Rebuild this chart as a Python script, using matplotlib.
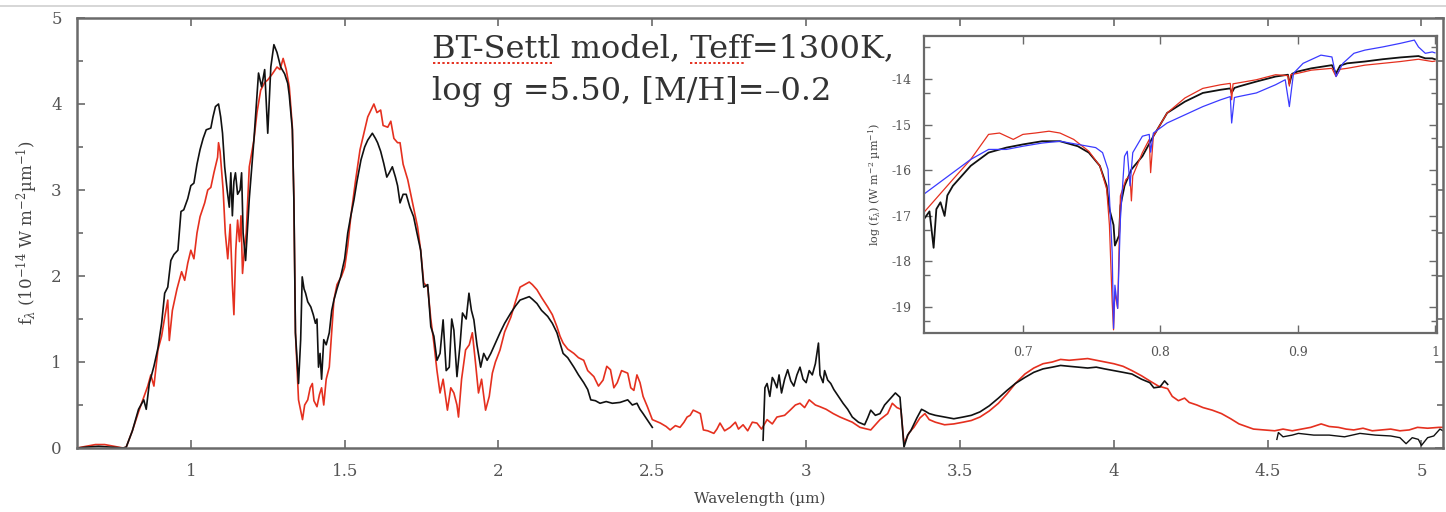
import matplotlib
matplotlib.use("Agg")
import numpy as np
import matplotlib.pyplot as plt
from matplotlib.ticker import FixedLocator, FuncFormatter
from matplotlib.lines import Line2D

plt.rcParams['font.family'] = ['DejaVu Serif']
plt.rcParams['mathtext.fontset'] = 'dejavuserif'

# main panel, model (red)
red_wl = [0.63, 0.66, 0.69, 0.72, 0.75, 0.78, 0.79, 0.81, 0.83, 0.847, 0.86, 0.87, 0.88, 0.893, 0.905,
          0.915, 0.925, 0.93, 0.94, 0.955, 0.97, 0.98, 0.99, 1.0, 1.01, 1.02, 1.03, 1.045, 1.055, 1.065,
          1.075, 1.087, 1.09, 1.095, 1.105, 1.112, 1.12, 1.128, 1.135, 1.14, 1.146, 1.152, 1.158, 1.163,
          1.168, 1.174, 1.18, 1.19, 1.205, 1.215, 1.227, 1.24, 1.25, 1.265, 1.28, 1.29, 1.30, 1.31, 1.32,
          1.33, 1.335, 1.34, 1.35, 1.363, 1.37, 1.38, 1.388, 1.395, 1.40, 1.41, 1.418, 1.425, 1.432, 1.44,
          1.45, 1.457, 1.465, 1.475, 1.49, 1.5, 1.51, 1.52, 1.535, 1.55, 1.565, 1.575, 1.595, 1.605, 1.617,
          1.625, 1.64, 1.65, 1.66, 1.672, 1.68, 1.69, 1.705, 1.715, 1.724, 1.737, 1.747, 1.757, 1.77, 1.78,
          1.79, 1.80, 1.81, 1.82, 1.834, 1.845, 1.855, 1.865, 1.87, 1.88, 1.893, 1.905, 1.915, 1.925, 1.935,
          1.945, 1.958, 1.97, 1.98, 1.99, 2.005, 2.02, 2.04, 2.055, 2.07, 2.085, 2.10, 2.11, 2.125, 2.14,
          2.16, 2.175, 2.19, 2.20, 2.21, 2.225, 2.245, 2.26, 2.277, 2.29, 2.31, 2.325, 2.34, 2.352, 2.364,
          2.375, 2.386, 2.40, 2.42, 2.43, 2.44, 2.45, 2.46, 2.47, 2.484, 2.5, 2.526, 2.545, 2.558, 2.575,
          2.59, 2.603, 2.613, 2.623, 2.633, 2.645, 2.656, 2.666, 2.68, 2.7, 2.71, 2.72, 2.735, 2.753, 2.77,
          2.78, 2.795, 2.81, 2.825, 2.84, 2.855, 2.873, 2.89, 2.905, 2.93, 2.948, 2.965, 2.98, 2.995, 3.01,
          3.03, 3.045, 3.065, 3.088, 3.11, 3.13, 3.15, 3.175, 3.21, 3.24, 3.265, 3.28, 3.295, 3.308, 3.318,
          3.335, 3.35, 3.37, 3.386, 3.40, 3.42, 3.45, 3.48, 3.51, 3.537, 3.565, 3.595, 3.625, 3.653, 3.68,
          3.711, 3.74, 3.77, 3.8, 3.827, 3.855, 3.885, 3.915, 3.943, 3.97, 4.0, 4.03, 4.059, 4.09, 4.117,
          4.145, 4.175, 4.19, 4.21, 4.23, 4.245, 4.27, 4.29, 4.32, 4.35, 4.38, 4.407, 4.43, 4.454, 4.49,
          4.523, 4.55, 4.58, 4.61, 4.64, 4.674, 4.7, 4.73, 4.755, 4.78, 4.81, 4.84, 4.871, 4.9, 4.93, 4.96,
          4.987, 5.02, 5.057, 5.07]
red_flux = [0.0, 0.02, 0.04, 0.04, 0.02, 0.0, 0.01, 0.2, 0.42, 0.59, 0.72, 0.85, 0.72, 1.14, 1.3,
            1.52, 1.72, 1.25, 1.6, 1.85, 2.05, 1.95, 2.15, 2.3, 2.2, 2.5, 2.69, 2.85, 3.0, 3.03,
            3.2, 3.38, 3.55, 3.45, 3.0, 2.5, 2.2, 2.6, 1.9, 1.55, 2.3, 2.65, 2.4, 2.7,
            2.03, 2.3, 2.5, 3.27, 3.58, 3.9, 4.16, 4.25, 4.28, 4.35, 4.43, 4.4, 4.53, 4.4, 4.2,
            3.73, 2.88, 1.34, 0.56, 0.33, 0.5, 0.56, 0.7, 0.75, 0.55, 0.48, 0.62, 0.7, 0.5, 0.8,
            0.94, 1.3, 1.72, 1.9, 2.0, 2.1, 2.35, 2.69, 3.1, 3.47, 3.7, 3.85, 4.0, 3.9, 3.93,
            3.75, 3.73, 3.8, 3.6, 3.55, 3.55, 3.3, 3.12, 2.95, 2.8, 2.57, 2.3, 1.92, 1.87, 1.5,
            1.22, 0.9, 0.64, 0.8, 0.44, 0.7, 0.64, 0.5, 0.36, 0.8, 1.14, 1.2, 1.34, 1.0, 0.64,
            0.8, 0.44, 0.6, 0.87, 1.0, 1.14, 1.35, 1.52, 1.7, 1.87, 1.9, 1.93, 1.9, 1.84, 1.75,
            1.64, 1.55, 1.41, 1.3, 1.22, 1.15, 1.1, 1.05, 1.02, 0.9, 0.83, 0.72, 0.79, 0.95, 0.91,
            0.7, 0.76, 0.9, 0.87, 0.7, 0.67, 0.85, 0.76, 0.6, 0.48, 0.33, 0.29, 0.25, 0.21, 0.26,
            0.24, 0.3, 0.36, 0.38, 0.44, 0.42, 0.4, 0.21, 0.2, 0.17, 0.22, 0.29, 0.2, 0.24, 0.3,
            0.22, 0.27, 0.2, 0.3, 0.29, 0.22, 0.33, 0.28, 0.36, 0.38, 0.44, 0.5, 0.52, 0.47, 0.56,
            0.5, 0.48, 0.45, 0.4, 0.36, 0.33, 0.3, 0.24, 0.21, 0.33, 0.4, 0.52, 0.47, 0.45, 0.05,
            0.18, 0.24, 0.35, 0.40, 0.33, 0.30, 0.27, 0.28, 0.3, 0.32, 0.36, 0.43, 0.52, 0.63, 0.75,
            0.86, 0.93, 0.98, 1.0, 1.03, 1.02, 1.03, 1.04, 1.02, 1.0, 0.98, 0.95, 0.9, 0.84, 0.78,
            0.72, 0.69, 0.6, 0.55, 0.58, 0.53, 0.5, 0.47, 0.44, 0.40, 0.34, 0.28, 0.25, 0.22, 0.21,
            0.20, 0.22, 0.2, 0.22, 0.24, 0.28, 0.25, 0.24, 0.22, 0.21, 0.23, 0.2, 0.21, 0.22, 0.2, 0.21,
            0.24, 0.23, 0.24, 0.24]

# main panel, observed (black), three separate pieces
blk1_wl = [0.63, 0.66, 0.70, 0.74, 0.78, 0.79, 0.81, 0.83, 0.847, 0.855, 0.865, 0.88, 0.893, 0.905,
           0.915, 0.925, 0.935, 0.945, 0.958, 0.968, 0.977, 0.99, 1.0, 1.01, 1.02, 1.03, 1.04, 1.05,
           1.065, 1.072, 1.08, 1.09, 1.097, 1.103, 1.11, 1.118, 1.125, 1.13, 1.135, 1.14, 1.145, 1.152,
           1.16, 1.165, 1.17, 1.178, 1.185, 1.19, 1.205, 1.22, 1.23, 1.24, 1.25, 1.26, 1.27, 1.28, 1.292,
           1.305, 1.315, 1.32, 1.33, 1.335, 1.34, 1.35, 1.357, 1.362, 1.368, 1.373, 1.38, 1.39, 1.398,
           1.405, 1.41, 1.415, 1.42, 1.425, 1.432, 1.44, 1.45, 1.458, 1.465, 1.475, 1.487, 1.5, 1.51,
           1.52, 1.53, 1.54, 1.553, 1.565, 1.575, 1.59, 1.6, 1.607, 1.617, 1.627, 1.637, 1.645, 1.655,
           1.665, 1.672, 1.68, 1.69, 1.70, 1.712, 1.724, 1.735, 1.747, 1.757, 1.77, 1.78, 1.79, 1.80,
           1.81, 1.82, 1.83, 1.84, 1.848, 1.855, 1.865, 1.875, 1.883, 1.895, 1.904, 1.912, 1.92, 1.93,
           1.942, 1.952, 1.963, 1.975, 1.985, 2.005, 2.02, 2.04, 2.055, 2.07, 2.085, 2.10, 2.11, 2.125,
           2.14, 2.16, 2.175, 2.19, 2.2, 2.21, 2.225, 2.245, 2.26, 2.277, 2.29, 2.3, 2.315, 2.33, 2.35,
           2.37, 2.395, 2.42, 2.435, 2.45, 2.46, 2.47, 2.485, 2.5]
blk1_flux = [0.0, 0.01, 0.02, 0.01, 0.0, 0.01, 0.2, 0.45, 0.56, 0.45, 0.75, 0.95, 1.16, 1.45,
             1.8, 1.87, 2.18, 2.25, 2.3, 2.75, 2.77, 2.9, 3.05, 3.08, 3.3, 3.47, 3.6, 3.7,
             3.72, 3.85, 3.97, 4.0, 3.85, 3.66, 3.27, 3.0, 2.8, 3.2, 2.7, 3.1, 3.2, 2.95,
             3.0, 3.2, 2.5, 2.18, 2.6, 2.9, 3.58, 4.36, 4.2, 4.4, 3.66, 4.43, 4.69, 4.6, 4.43,
             4.35, 4.24, 4.1, 3.7, 2.88, 1.34, 0.75, 1.26, 1.99, 1.85, 1.8, 1.7, 1.64, 1.55,
             1.45, 1.5, 0.94, 1.1, 0.8, 1.26, 1.2, 1.34, 1.6, 1.72, 1.85, 1.99, 2.2, 2.5,
             2.7, 2.88, 3.1, 3.35, 3.5, 3.58, 3.66, 3.6, 3.55, 3.45, 3.31, 3.15, 3.2, 3.27,
             3.15, 3.05, 2.85, 2.95, 2.95, 2.8, 2.69, 2.5, 2.3, 1.87, 1.9, 1.41, 1.3, 1.02,
             1.1, 1.49, 0.9, 0.94, 1.5, 1.37, 0.83, 1.2, 1.57, 1.5, 1.8, 1.6, 1.49, 1.2,
             0.94, 1.1, 1.02, 1.1, 1.18, 1.34, 1.45, 1.57, 1.65, 1.72, 1.74, 1.76, 1.73, 1.68,
             1.6, 1.53, 1.45, 1.34, 1.22, 1.1, 1.05, 0.94, 0.85, 0.76, 0.68, 0.56, 0.55, 0.52, 0.54,
             0.52, 0.53, 0.56, 0.5, 0.52, 0.45, 0.4, 0.32, 0.24]
blk2_wl = [2.86, 2.866, 2.873, 2.882, 2.89, 2.895, 2.905, 2.912, 2.92, 2.93, 2.94, 2.95, 2.96, 2.97,
           2.98, 2.99, 3.0, 3.01, 3.02, 3.03, 3.04, 3.045, 3.055, 3.06, 3.07, 3.08, 3.09, 3.105, 3.12,
           3.135, 3.15, 3.17, 3.19, 3.2, 3.21, 3.225, 3.24, 3.255, 3.27, 3.28, 3.29, 3.305, 3.318, 3.33,
           3.34, 3.36, 3.375, 3.386, 3.40, 3.42, 3.45, 3.48, 3.51, 3.537, 3.565, 3.595, 3.625, 3.653,
           3.68, 3.711, 3.74, 3.77, 3.8, 3.827, 3.855, 3.885, 3.915, 3.943, 3.97, 4.0, 4.03, 4.059, 4.09,
           4.117, 4.13, 4.15, 4.165, 4.175]
blk2_flux = [0.09, 0.7, 0.75, 0.6, 0.82, 0.79, 0.7, 0.85, 0.64, 0.8, 0.91, 0.78, 0.72, 0.85,
             0.94, 0.8, 0.76, 0.9, 0.85, 0.98, 1.22, 0.85, 0.76, 0.9, 0.79, 0.75, 0.68, 0.6, 0.52,
             0.45, 0.36, 0.3, 0.27, 0.35, 0.44, 0.38, 0.40, 0.5, 0.56, 0.6, 0.64, 0.59, 0.01, 0.15,
             0.2, 0.35, 0.45, 0.43, 0.40, 0.38, 0.36, 0.34, 0.36, 0.38, 0.42, 0.49, 0.58, 0.67,
             0.75, 0.82, 0.88, 0.92, 0.94, 0.96, 0.95, 0.94, 0.93, 0.94, 0.92, 0.9, 0.88, 0.86, 0.8,
             0.76, 0.7, 0.71, 0.78, 0.74]
blk3_wl = [4.53, 4.535, 4.55, 4.58, 4.6, 4.65, 4.7, 4.75, 4.8, 4.85, 4.9, 4.93, 4.95, 4.97, 4.99,
           5.0, 5.02, 5.04, 5.06, 5.07]
blk3_flux = [0.1, 0.18, 0.13, 0.15, 0.17, 0.15, 0.15, 0.13, 0.17, 0.15, 0.14, 0.12, 0.05, 0.12, 0.1,
             0.03, 0.12, 0.14, 0.22, 0.2]

# inset (log flux)
in_blk_wl = [0.628, 0.632, 0.635, 0.637, 0.64, 0.643, 0.645, 0.649, 0.662, 0.675, 0.688, 0.7, 0.714,
             0.727, 0.74, 0.748, 0.756, 0.761, 0.763, 0.766, 0.767, 0.77, 0.771, 0.774, 0.779, 0.787,
             0.795, 0.805, 0.818, 0.831, 0.844, 0.851, 0.852, 0.854, 0.857, 0.87, 0.884, 0.893, 0.894,
             0.896, 0.9, 0.91, 0.925, 0.928, 0.931, 0.936, 0.949, 0.962, 0.975, 0.988, 0.993, 0.998, 1.0]
in_blk_log = [-17.07, -16.9, -17.7, -16.85, -16.7, -17.0, -16.55, -16.34, -15.9, -15.61, -15.5, -15.43, -15.36,
              -15.36, -15.47, -15.61, -15.9, -16.34, -16.85, -17.2, -17.65, -17.43, -16.78, -16.34, -15.98, -15.69,
              -15.25, -14.74, -14.49, -14.3, -14.23, -14.2, -14.3, -14.19, -14.16, -14.05, -13.94, -13.9, -14.1,
              -13.88, -13.83, -13.76, -13.69, -13.87, -13.7, -13.65, -13.61, -13.56, -13.52, -13.49, -13.54, -13.54, -13.56]
in_red_wl = [0.628, 0.649, 0.662, 0.675, 0.683, 0.693, 0.7, 0.709, 0.719, 0.727, 0.737, 0.748, 0.756,
             0.761, 0.763, 0.765, 0.766, 0.767, 0.769, 0.77, 0.771, 0.775, 0.778, 0.779, 0.78, 0.787,
             0.792, 0.793, 0.795, 0.805, 0.818, 0.831, 0.844, 0.851, 0.852, 0.853, 0.87, 0.884, 0.893,
             0.894, 0.895, 0.9, 0.91, 0.925, 0.928, 0.931, 0.936, 0.949, 0.962, 0.975, 0.988, 0.998, 1.0]
in_red_log = [-16.92, -16.2, -15.76, -15.21, -15.18, -15.32, -15.21, -15.18, -15.14, -15.18, -15.32, -15.58, -15.9,
              -16.41, -17.2, -18.89, -19.5, -18.67, -19.03, -17.72, -16.56, -16.2, -16.12, -16.67, -16.12, -15.61,
              -15.32, -16.05, -15.25, -14.74, -14.41, -14.2, -14.12, -14.09, -14.45, -14.1, -14.01, -13.9, -13.92,
              -14.15, -13.9, -13.87, -13.8, -13.76, -13.94, -13.78, -13.76, -13.69, -13.65, -13.61, -13.56, -13.61, -13.6]
in_blu_wl = [0.628, 0.649, 0.662, 0.675, 0.688, 0.7, 0.714, 0.727, 0.74, 0.753, 0.758, 0.762, 0.765,
             0.766, 0.767, 0.769, 0.771, 0.774, 0.776, 0.778, 0.78, 0.787, 0.792, 0.793, 0.795, 0.805,
             0.818, 0.831, 0.844, 0.851, 0.852, 0.854, 0.857, 0.87, 0.884, 0.891, 0.894, 0.897, 0.904,
             0.917, 0.925, 0.928, 0.933, 0.941, 0.949, 0.962, 0.975, 0.985, 0.988, 0.993, 0.998, 1.0]
in_blu_log = [-16.52, -16.05, -15.76, -15.54, -15.54, -15.47, -15.4, -15.36, -15.43, -15.5, -15.61, -15.98, -17.8,
              -19.47, -18.52, -19.03, -17.07, -15.69, -15.58, -16.34, -15.61, -15.25, -15.21, -15.6, -15.18, -14.96,
              -14.78, -14.6, -14.45, -14.38, -14.96, -14.4, -14.38, -14.3, -14.12, -14.01, -14.6, -13.87, -13.65,
              -13.47, -13.51, -13.94, -13.65, -13.43, -13.36, -13.29, -13.21, -13.14, -13.29, -13.43, -13.4, -13.42]

title_line1 = "BT-Settl model, Teff=1300K,"
title_line2 = "log g =5.50, [M/H]=\u20130.2"

W, H = 1446, 512
gray = '#6a6a6a'
red = '#e5301f'
fmt = FuncFormatter(lambda v, p: '%g' % v)

fig = plt.figure(figsize=(W / 100, H / 100), dpi=100)
fig.add_artist(Line2D([0, 1], [1 - 6 / H, 1 - 6 / H], color='#d0d0d0', lw=1.2, transform=fig.transFigure))

ax = fig.add_axes([77 / W, 1 - 448 / H, (1443 - 77) / W, (448 - 18) / H])
ax.plot(red_wl, red_flux, color=red, lw=1.2)
ax.plot(blk1_wl, blk1_flux, color='#111111', lw=1.2)
ax.plot(blk2_wl, blk2_flux, color='#111111', lw=1.2)
ax.plot(blk3_wl, blk3_flux, color='#111111', lw=1.0)
ax.set_xlim(0.63, 5.07)
ax.set_ylim(0, 5)
ax.xaxis.set_major_locator(FixedLocator([1, 1.5, 2, 2.5, 3, 3.5, 4, 4.5, 5]))
ax.yaxis.set_major_locator(FixedLocator([0, 1, 2, 3, 4, 5]))
ax.yaxis.set_minor_locator(FixedLocator([0.5, 1.5, 2.5, 3.5, 4.5]))
ax.xaxis.set_major_formatter(fmt)
ax.yaxis.set_major_formatter(fmt)
ax.tick_params(which='both', direction='in', top=True, right=True, color=gray, width=1.2,
               labelsize=12, labelcolor='#555555', pad=11)
ax.tick_params(which='major', length=6)
ax.tick_params(which='minor', length=4)
for s in ax.spines.values():
    s.set_color(gray)
    s.set_linewidth(1.8)
ax.set_xlabel('Wavelength (\u00b5m)', fontsize=11, color='#444444', labelpad=8)
ax.set_ylabel('f$_\\lambda$ (10$^{-14}$ W m$^{-2}$\u00b5m$^{-1}$)', fontsize=12, color='#444444', labelpad=8)

fig.text(432 / W, 1 - 57 / H, title_line1, fontsize=23, color='#333333', va='baseline', ha='left')
fig.text(432 / W, 1 - 100 / H, title_line2, fontsize=23, color='#333333', va='baseline', ha='left')
# spell-check style dotted underlines seen in the source image
fig.add_artist(Line2D([433 / W, 552 / W], [1 - 63 / H] * 2, color=red, lw=1.4, ls=(0, (1.2, 1.2)),
                      transform=fig.transFigure))
fig.add_artist(Line2D([690 / W, 744 / W], [1 - 63 / H] * 2, color=red, lw=1.4, ls=(0, (1.2, 1.2)),
                      transform=fig.transFigure))

ins = fig.add_axes([924 / W, 1 - 333 / H, (1437 - 924) / W, (333 - 36) / H])
ins.plot(in_blk_wl, in_blk_log, color='#111111', lw=1.3)
ins.plot(in_red_wl, in_red_log, color=red, lw=0.9)
ins.plot(in_blu_wl, in_blu_log, color='#3a3aff', lw=0.9)
ins.set_xlim(0.628, 1.0015)
ins.set_ylim(-19.57, -13.05)
ins.xaxis.set_major_locator(FixedLocator([0.7, 0.8, 0.9, 1.0]))
ins.yaxis.set_major_locator(FixedLocator([-14, -15, -16, -17, -18, -19]))
ins.yaxis.set_minor_locator(FixedLocator([-13.3, -14.3, -15.3, -16.3, -17.3, -18.3, -19.3]))
ins.xaxis.set_major_formatter(fmt)
ins.yaxis.set_major_formatter(fmt)
ins.tick_params(which='both', direction='in', top=True, right=True, color=gray, width=1.0,
                labelsize=9, labelcolor='#555555', pad=9)
ins.tick_params(which='major', length=6)
ins.tick_params(which='minor', length=4)
for s in ins.spines.values():
    s.set_color(gray)
    s.set_linewidth(1.6)
ins.set_ylabel('log (f$_\\lambda$) (W m$^{-2}$ \u00b5m$^{-1}$)', fontsize=8, color='#444444', labelpad=6)

fig.savefig('out.png', dpi=100, facecolor='white')
